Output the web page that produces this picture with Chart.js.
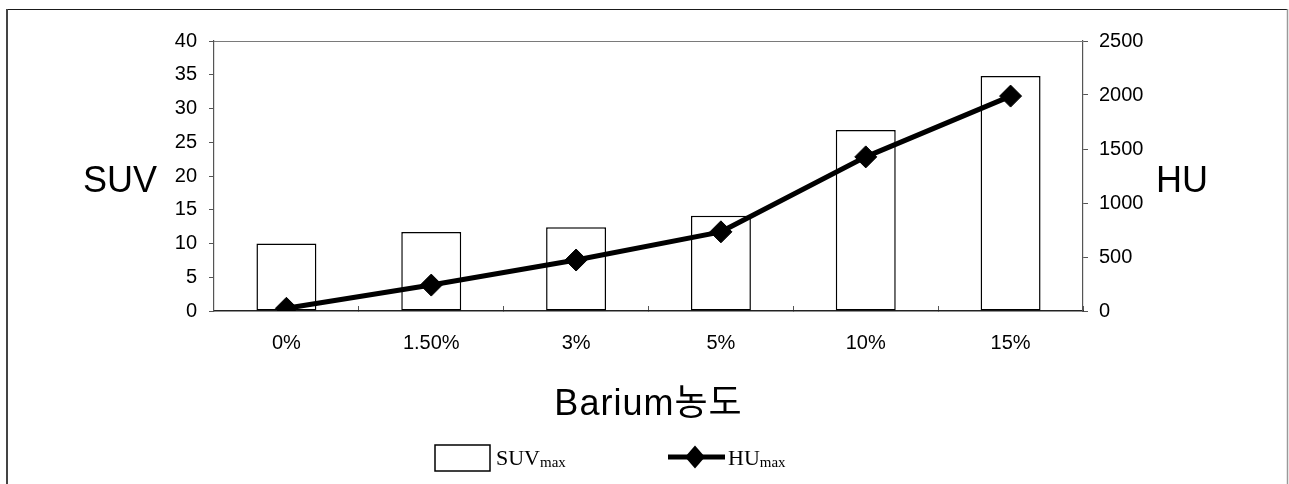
<!DOCTYPE html>
<html>
<head>
<meta charset="utf-8">
<script src="https://cdn.jsdelivr.net/npm/chart.js@4.4.0/dist/chart.umd.min.js"></script>
<style>
  html, body { margin: 0; padding: 0; background: #fff; }
  #wrap { width: 1289px; height: 484px; position: relative; }
  canvas { display: block; }
</style>
</head>
<body>
<div id="wrap"><canvas id="chart" width="1289" height="484"></canvas></div>
<script>
// Barium concentration categories
const categories = ['0%', '1.50%', '3%', '5%', '10%', '15%'];
// SUVmax per concentration (left axis)
const suvMax = [10.0, 11.7, 12.4, 14.1, 26.8, 34.8];
// HUmax per concentration (right axis)
const huMax = [25, 240, 472, 733, 1427, 1990];

const leftAxisTitle = 'SUV';
const rightAxisTitle = 'HU';
const xAxisTitle = 'Barium농도';
const legendSuv = ['SUV', 'max'];
const legendHu = ['HU', 'max'];

const SANS = "'Liberation Sans', Arial, 'Noto Sans CJK KR', sans-serif";
const SERIF = "'Liberation Serif', 'Times New Roman', serif";
const tickFont = { family: SANS, size: 20 };

const decor = {
  id: 'decor',
  beforeDraw(chart) {
    const ctx = chart.ctx;
    ctx.save();
    ctx.fillStyle = '#fff';
    ctx.fillRect(0, 0, chart.width, chart.height);
    ctx.restore();
  },
  afterDraw(chart) {
    const { ctx, chartArea: a } = chart;
    ctx.save();

    // plot frame top edge
    ctx.strokeStyle = '#7a7a7a';
    ctx.lineWidth = 1.2;
    ctx.beginPath();
    ctx.moveTo(a.left, a.top + 0.5);
    ctx.lineTo(a.right, a.top + 0.5);
    ctx.stroke();

    // outer figure frame (top, left, right)
    ctx.strokeStyle = '#1a1a1a';
    ctx.lineWidth = 1.2;
    ctx.beginPath();
    ctx.moveTo(6, 9.5);
    ctx.lineTo(1288, 9.5);
    ctx.stroke();
    ctx.strokeStyle = '#444';
    ctx.lineWidth = 2;
    ctx.beginPath();
    ctx.moveTo(7, 9);
    ctx.lineTo(7, chart.height);
    ctx.stroke();
    ctx.strokeStyle = '#9a9a9a';
    ctx.lineWidth = 1.5;
    ctx.beginPath();
    ctx.moveTo(1287.5, 9);
    ctx.lineTo(1287.5, chart.height);
    ctx.stroke();

    // axis titles
    ctx.fillStyle = '#000';
    ctx.textBaseline = 'alphabetic';
    ctx.font = '36px ' + SANS;
    ctx.textAlign = 'left';
    ctx.fillText(leftAxisTitle, 83, 192);
    ctx.fillText(rightAxisTitle, 1156, 192);
    ctx.textAlign = 'center';
    ctx.letterSpacing = '1px';
    ctx.fillText(xAxisTitle, (a.left + a.right) / 2, 415);
    ctx.letterSpacing = '0px';

    // legend: bar series
    const bar = chart.data.datasets[1];
    ctx.fillStyle = bar.backgroundColor;
    ctx.strokeStyle = bar.borderColor;
    ctx.lineWidth = 1.5;
    ctx.fillRect(435, 445, 55, 26);
    ctx.strokeRect(435, 445, 55, 26);
    ctx.fillStyle = '#000';
    ctx.textAlign = 'left';
    ctx.font = '22px ' + SERIF;
    ctx.fillText(legendSuv[0], 496, 465);
    let w = ctx.measureText(legendSuv[0]).width;
    ctx.font = '15px ' + SERIF;
    ctx.fillText(legendSuv[1], 496 + w, 467);

    // legend: line series
    const line = chart.data.datasets[0];
    ctx.strokeStyle = line.borderColor;
    ctx.lineWidth = line.borderWidth;
    ctx.beginPath();
    ctx.moveTo(668, 457);
    ctx.lineTo(725, 457);
    ctx.stroke();
    ctx.fillStyle = line.pointBackgroundColor;
    const r = 11.5;
    ctx.beginPath();
    ctx.moveTo(695, 457 - r);
    ctx.lineTo(695 + r - 1.5, 457);
    ctx.lineTo(695, 457 + r);
    ctx.lineTo(695 - r + 1.5, 457);
    ctx.closePath();
    ctx.fill();
    ctx.fillStyle = '#000';
    ctx.font = '22px ' + SERIF;
    ctx.fillText(legendHu[0], 728, 465);
    w = ctx.measureText(legendHu[0]).width;
    ctx.font = '15px ' + SERIF;
    ctx.fillText(legendHu[1], 728 + w, 467);

    ctx.restore();
  }
};

new Chart(document.getElementById('chart'), {
  data: {
    labels: categories,
    datasets: [
      {
        type: 'line',
        label: 'HUmax',
        data: huMax,
        yAxisID: 'y1',
        borderColor: '#000',
        borderWidth: 5,
        backgroundColor: '#000',
        pointStyle: 'rectRot',
        pointRadius: 11,
        pointBackgroundColor: '#000',
        pointBorderColor: '#000',
        pointBorderWidth: 1,
        tension: 0,
        order: 0
      },
      {
        type: 'bar',
        label: 'SUVmax',
        data: suvMax,
        yAxisID: 'y',
        backgroundColor: '#fff',
        borderColor: '#000',
        borderWidth: 1.5,
        borderSkipped: false,
        categoryPercentage: 1,
        barPercentage: 0.414,
        order: 1
      }
    ]
  },
  options: {
    responsive: false,
    animation: false,
    devicePixelRatio: 1,
    layout: { padding: { top: 41, left: 0, right: 0, bottom: 0 } },
    plugins: { legend: { display: false }, tooltip: { enabled: false } },
    scales: {
      x: {
        offset: true,
        grid: { offset: true, drawOnChartArea: false, tickLength: -5, color: '#555', lineWidth: 1 },
        border: { color: '#222', width: 1.5 },
        ticks: { font: tickFont, color: '#000', padding: 25, maxRotation: 0 },
        afterFit(s) { s.height = 173; }
      },
      y: {
        position: 'left',
        min: 0, max: 40,
        ticks: { stepSize: 5, font: tickFont, color: '#000', padding: 12 },
        grid: { drawOnChartArea: false, tickLength: 5, color: '#555' },
        border: { color: '#555', width: 1.2 },
        afterFit(s) { s.width = 214; }
      },
      y1: {
        position: 'right',
        min: 0, max: 2500,
        ticks: { stepSize: 500, font: tickFont, color: '#000', padding: 11, callback: v => String(v) },
        grid: { drawOnChartArea: false, tickLength: 5, color: '#555' },
        border: { color: '#555', width: 1.2 },
        afterFit(s) { s.width = 206; }
      }
    }
  },
  plugins: [decor]
});
</script>
</body>
</html>
